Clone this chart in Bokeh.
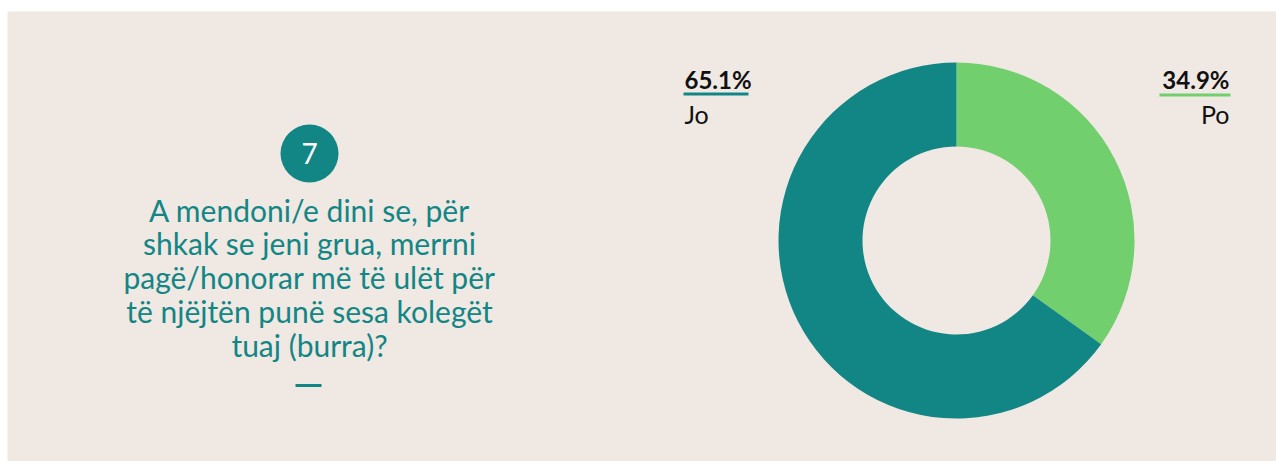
import math
from bokeh.plotting import figure
from bokeh.models import Range1d, ColumnDataSource
from bokeh.core.properties import value
from bokeh.embed import file_html
from bokeh.resources import INLINE

# ---- data ----
categories = ["Po", "Jo"]
shares = [34.9, 65.1]
colors = ["#72cf6d", "#128685"]
label_texts = ["34.9%", "65.1%"]
question_number = "7"
question_lines = [
    "A mendoni/e dini se, për",
    "shkak se jeni grua, merrni",
    "pagë/honorar më të ulët për",
    "të njëjtën punë sesa kolegët",
    "tuaj (burra)?",
]

BG = "#f0e8e3"
TEAL = "#128685"
FONT = "Lato"
W, H = 1276, 461

p = figure(width=W, height=H, output_backend="svg", toolbar_location=None,
           x_range=Range1d(0, W), y_range=Range1d(0, H),
           min_border=0, min_border_left=0, min_border_right=0,
           min_border_top=0, min_border_bottom=0)
p.axis.visible = False
p.grid.visible = False
p.outline_line_color = None
p.background_fill_color = "white"
p.border_fill_color = "white"

def Y(ys):  # screenshot y -> figure y
    return H - ys

def X(xs):
    return xs

def TB(ys, size):  # baseline in screenshot y -> y for 'middle' anchored text
    return Y(ys - 0.36 * size)

# panel
p.quad(left=[X(7)], right=[W], top=[Y(11)], bottom=[0], fill_color=BG, line_color=None)

# ---- donut ----
cx, cy = X(956), Y(240)
r_out, r_in = 178, 94
total = sum(shares)
starts, ends = [], []
acc = 0.0
for s in shares:
    a0 = math.pi / 2 - 2 * math.pi * acc / total
    acc += s
    a1 = math.pi / 2 - 2 * math.pi * acc / total
    starts.append(a0)
    ends.append(a1)
src = ColumnDataSource(dict(cat=categories, start=starts, end=ends, color=colors,
                            x=[cx] * 2, y=[cy] * 2))
p.annular_wedge(x="x", y="y", inner_radius=r_in, outer_radius=r_out,
                start_angle="start", end_angle="end", direction="clock",
                fill_color="color", line_color=None, source=src)

# ---- slice labels ----
lab_x = [X(1229), X(684)]
lab_align = ["right", "left"]
for i in range(2):
    p.text(x=[lab_x[i]], y=[TB(88, 24)], text=[label_texts[i]], text_align=lab_align[i],
           text_baseline="middle", text_font=value(FONT), text_font_style="bold",
           text_font_size="24px", text_color="#111111")
    p.text(x=[lab_x[i]], y=[TB(122, 25)], text=[categories[i]], text_align=lab_align[i],
           text_baseline="middle", text_font=value(FONT),
           text_font_size="25px", text_color="#111111")
    if lab_align[i] == "right":
        x0, x1 = lab_x[i] - 70, lab_x[i] + 1
        yy = Y(94.5)
    else:
        x0, x1 = lab_x[i] - 1, lab_x[i] + 64
        yy = Y(93.5)
    p.segment(x0=[x0], y0=[yy], x1=[x1], y1=[yy], line_color=colors[i], line_width=3)

# ---- question block ----
qx = X(309)
p.scatter(x=[qx], y=[Y(153)], size=58, fill_color=TEAL, line_color=None)
p.text(x=[qx], y=[TB(163, 28)], text=[question_number], text_align="center",
       text_baseline="middle", text_font=value(FONT), text_font_size="28px",
       text_color="white")
for i, line in enumerate(question_lines):
    p.text(x=[qx], y=[TB(220 + 33.75 * i, 30)], text=[line], text_align="center",
           text_baseline="middle", text_font=value(FONT), text_font_size="30px",
           text_color=TEAL)
p.segment(x0=[X(295)], y0=[Y(385)], x1=[X(321)], y1=[Y(385)], line_color=TEAL, line_width=3)

open("out.html", "w").write(file_html(p, INLINE))
